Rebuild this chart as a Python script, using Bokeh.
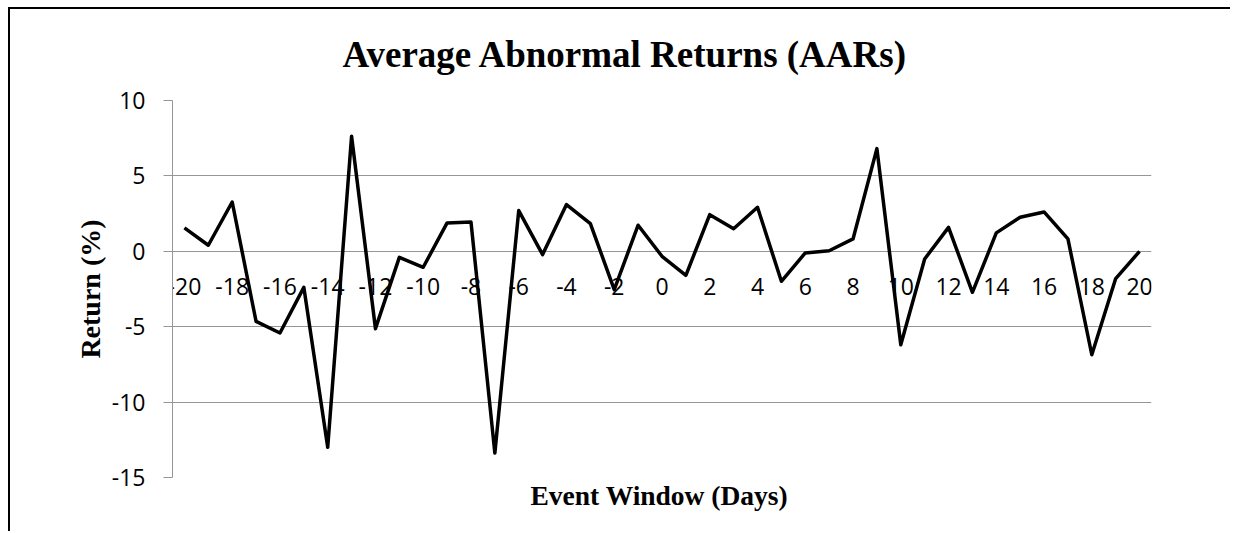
from bokeh.plotting import figure
from bokeh.models import FixedTicker, Range1d, Title
from bokeh.embed import file_html
from bokeh.resources import INLINE

days = list(range(-20, 21))
aar = [1.55, 0.40, 3.27, -4.65, -5.42, -2.39, -13.0, 7.63, -5.13, -0.40,
       -1.06, 1.88, 1.95, -13.38, 2.70, -0.22, 3.10, 1.84, -2.54, 1.73,
       -0.33, -1.59, 2.43, 1.50, 2.92, -1.99, -0.11, 0.04, 0.82, 6.81,
       -6.20, -0.51, 1.59, -2.72, 1.22, 2.26, 2.61, 0.82, -6.86, -1.81, 0.0]
x_ticks = list(range(-20, 21, 2))
y_ticks = [-15, -10, -5, 0, 5, 10]

title_text = "Average Abnormal Returns (AARs)"
x_title = "Event Window (Days)"
y_title = "Return (%)"

GRID = "#969696"
SERIF = "Liberation Serif"
SANS = "Open Sans"

p = figure(width=1222, height=524, output_backend="svg", toolbar_location=None,
           x_range=Range1d(-20.5, 20.5), y_range=Range1d(-15, 10),
           min_border_left=162, min_border_right=81, min_border_top=91,
           min_border_bottom=56)
p.styles = {"border-top": "2px solid black", "border-left": "2px solid black",
            "margin-top": "7px", "margin-left": "8px"}
p.outline_line_color = None
p.background_fill_color = "white"
p.border_fill_color = "white"

p.line(days, aar, line_color="black", line_width=3.5, line_join="round")

# title
p.title.text = title_text
p.title.text_font = SERIF
p.title.text_font_size = "37px"
p.title.text_font_style = "bold"
p.title.text_color = "black"
p.title.align = "left"
p.title.offset = 170
p.title.vertical_align = "top"
p.title.standoff = 48

# x axis crossing at 0
xa = p.xaxis[0]
xa.fixed_location = 0
xa.ticker = FixedTicker(ticks=x_ticks)
xa.major_label_overrides = {t: str(t) for t in x_ticks}
xa.major_tick_in = 0
xa.major_tick_out = 0
xa.minor_tick_line_color = None
xa.axis_line_color = None
xa.major_label_standoff = 27
xa.major_label_text_font = SANS
xa.major_label_text_font_size = "23px"
xa.major_label_text_color = "black"

# y axis
ya = p.yaxis[0]
ya.ticker = FixedTicker(ticks=y_ticks)
ya.major_label_overrides = {t: str(t) for t in y_ticks}
ya.major_tick_in = 0
ya.major_tick_out = 9
ya.minor_tick_line_color = None
ya.axis_line_color = GRID
ya.major_tick_line_color = GRID
ya.major_label_standoff = 18
ya.major_label_text_font = SANS
ya.major_label_text_font_size = "23px"
ya.major_label_text_color = "black"
ya.axis_label = y_title
ya.axis_label_text_font = SERIF
ya.axis_label_text_font_size = "28px"
ya.axis_label_text_font_style = "bold"
ya.axis_label_text_color = "black"
ya.axis_label_standoff = 3

p.xgrid.visible = False
p.ygrid.ticker = FixedTicker(ticks=y_ticks)
p.ygrid.grid_line_color = GRID
p.ygrid.grid_line_width = 1

bt = Title(text=x_title, align="left", offset=358, text_font=SERIF,
           text_font_size="27.5px", text_font_style="bold", text_color="black",
           standoff=1)
p.add_layout(bt, "below")

open("out.html", "w").write(file_html(p, INLINE))
